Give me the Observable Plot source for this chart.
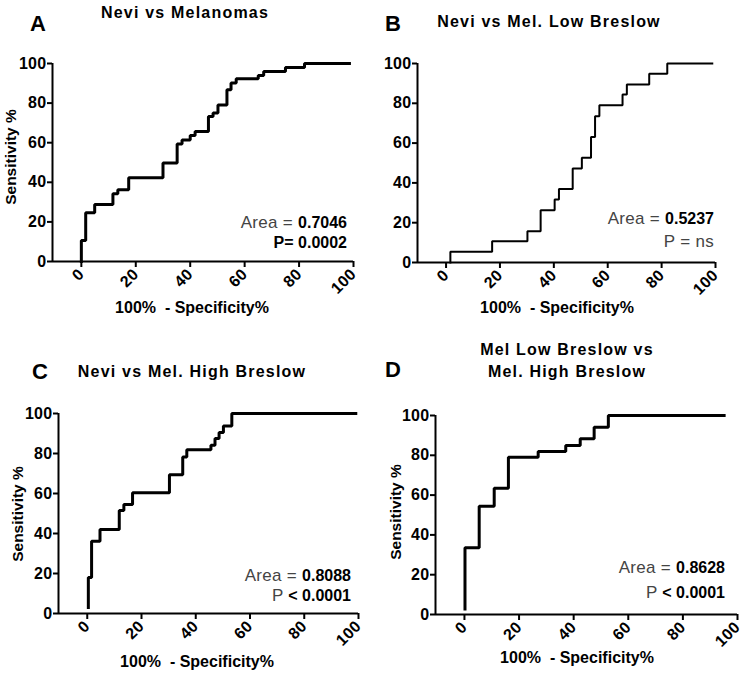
<!DOCTYPE html>
<html><head><meta charset="utf-8">
<script src="https://cdn.jsdelivr.net/npm/d3@7"></script>
<script src="https://cdn.jsdelivr.net/npm/@observablehq/plot@0.6"></script>
<style>
body{margin:0;background:#fff;}
#fig{position:relative;width:744px;height:677px;overflow:hidden;font-family:"Liberation Sans",Arial,sans-serif;color:#000;}
.abs{position:absolute;white-space:nowrap;}
.panel{position:absolute;}
.title{font-weight:bold;font-size:16px;line-height:18px;letter-spacing:1.2px;transform:translateX(-50%);text-align:center;}
.letter{font-weight:bold;font-size:22px;line-height:24px;}
.xlab{font-weight:bold;font-size:16px;line-height:18px;transform:translateX(-50%);}
.ylab{font-weight:bold;font-size:15.5px;line-height:18px;transform:translate(-50%,-50%) rotate(-90deg);}
.stat{font-size:17px;line-height:20px;text-align:right;color:#444;letter-spacing:0.3px;}
.stat b{color:#000;font-size:16px;letter-spacing:0;}
svg text{letter-spacing:0.3px;}
</style>
</head><body>
<div id="fig"></div>
<script>
// ---- data ----
const xTicks = [0, 20, 40, 60, 80, 100];
const yTicks = [0, 20, 40, 60, 80, 100];

const titles = ["Nevi vs Melanomas", "Nevi vs Mel. Low Breslow", "Nevi vs Mel. High Breslow", "Mel Low Breslow vs\nMel. High Breslow"];
const letters = ["A", "B", "C", "D"];
const areas = ["0.7046", "0.5237", "0.8088", "0.8628"];
const pLabels = ["P=", "P =", "P", "P"];
const pValues = ["0.0002", "ns", "< 0.0001", "< 0.0001"];
const xLabel = "100%  - Specificity%";
const yLabel = "Sensitivity %";

const aX = [0, 0, 1.6, 4.9, 11.6, 13.4, 17.4, 30, 35.2, 37, 40, 41.8, 46.7, 48.4, 50.2, 53.5, 55, 56.9, 65, 67, 75, 82, 98.5];
const aY = [0, 10.6, 24.6, 28.8, 34.2, 36.2, 42.3, 49.8, 59.4, 61.4, 63.6, 65.7, 73.2, 75, 79, 86.7, 90.2, 92.3, 94, 96, 98, 100, 100];

const bX = [1.6, 1.6, 17.1, 30.2, 35.1, 40.3, 41.9, 47, 50.4, 53.8, 55.3, 56.9, 65.5, 67.1, 75.4, 82.1, 98.8];
const bY = [0, 5.4, 10.7, 15.7, 26.3, 31.7, 36.9, 47.2, 52.6, 63.1, 73.5, 79, 84.4, 89.4, 94.9, 100, 100];

const cX = [0.4, 0.4, 1.6, 4.7, 11.8, 13.5, 16.7, 30.3, 35.2, 36.7, 45.6, 47.1, 48.6, 50.2, 53.3, 99];
const cY = [3, 18, 36.1, 42, 51.5, 54.5, 60.4, 69.4, 78.3, 81.9, 84.1, 87.5, 90.5, 93.8, 100, 100];

const dX = [0.2, 0.2, 5.4, 10.9, 16.1, 27, 37.1, 42.4, 47.5, 52.7, 95.1];
const dY = [2.8, 33.5, 54.4, 63.5, 79, 81.9, 84.9, 88.3, 94.1, 100, 100];

const series = [[aX, aY], [bX, bY], [cX, cY], [dX, dY]];

// ---- layout ----
const layout = [
  {left: 0,   top: 0,   w: 372, h: 330, mL: 52, mR: 19, mT: 63, mB: 69, sw: 3, yl: [11, 157], xl: [192, 313], title: [185, 18], letter: [30, 32], stat: [347, 228, 248]},
  {left: 372, top: 0,   w: 372, h: 330, mL: 45, mR: 29, mT: 63, mB: 68, sw: 2, yl: null,      xl: [557, 313], title: [549, 27], letter: [385, 32], stat: [714, 224, 247]},
  {left: 0,   top: 330, w: 372, h: 347, mL: 58, mR: 14, mT: 83, mB: 64, sw: 3, yl: [18, 514], xl: [197, 667], title: [192, 377], letter: [32, 380], stat: [351, 581, 601]},
  {left: 372, top: 330, w: 372, h: 347, mL: 63, mR: 7,  mT: 85, mB: 63, sw: 3, yl: [396, 512], xl: [577, 663], title: [567, 355], letter: [385, 378], stat: [725, 573, 598]}
];
const xMin = -10.6;

const fig = document.getElementById("fig");
function addDiv(cls, html, style) {
  const d = document.createElement("div");
  d.className = "abs " + cls;
  d.innerHTML = html;
  Object.assign(d.style, style);
  fig.appendChild(d);
  return d;
}

layout.forEach((L, i) => {
  const [xs, ys] = series[i];
  const data = xs.map((x, j) => ({x, y: ys[j]}));
  const chart = Plot.plot({
    width: L.w, height: L.h,
    marginLeft: L.mL, marginRight: L.mR, marginTop: L.mT, marginBottom: L.mB,
    x: {domain: [xMin, 100]},
    y: {domain: [0, 100]},
    style: {fontFamily: "'Liberation Sans', Arial, sans-serif", fontSize: "16px", fontWeight: "bold", color: "#000", background: "transparent", overflow: "visible"},
    marks: [
      Plot.axisY({ticks: yTicks, tickSize: 5, tickPadding: 1, label: null, strokeWidth: 2, fontSize: 16}),
      Plot.axisX({ticks: xTicks, tickSize: 6, tickPadding: 4, tickRotate: -45, label: null, strokeWidth: 2, fontSize: 16}),
      Plot.ruleX([xMin], {y1: 0, y2: 100, strokeWidth: 2, stroke: "#000"}),
      Plot.ruleY([0], {strokeWidth: 2, stroke: "#000"}),
      Plot.line(data, {x: "x", y: "y", curve: "step-after", stroke: "#000", strokeWidth: L.sw, strokeLinejoin: "miter", strokeLinecap: "square"})
    ]
  });
  const wrap = document.createElement("div");
  wrap.className = "panel";
  wrap.style.left = L.left + "px";
  wrap.style.top = L.top + "px";
  wrap.appendChild(chart);
  fig.appendChild(wrap);

  const tLines = titles[i].split("\n");
  tLines.forEach((t, k) => {
    const base = L.title[1] + k * 22;
    addDiv("title", t, {left: L.title[0] + "px", top: (base - 14) + "px"});
  });
  addDiv("letter", letters[i], {left: L.letter[0] + "px", top: (L.letter[1] - 20) + "px"});
  addDiv("xlab", xLabel.replace(/  /g, "&nbsp; "), {left: L.xl[0] + "px", top: (L.xl[1] - 14) + "px"});
  if (L.yl) addDiv("ylab", yLabel, {left: L.yl[0] + "px", top: L.yl[1] + "px"});
  addDiv("stat", "Area = <b>" + areas[i] + "</b>", {right: (744 - L.stat[0]) + "px", top: (L.stat[1] - 15.5) + "px"});
  const pv = (i === 0) ? "<b>" + pLabels[i] + " " + pValues[i] + "</b>" :
             (i === 1) ? pLabels[i] + " " + pValues[i] :
             pLabels[i] + " <b>" + pValues[i] + "</b>";
  addDiv("stat", pv, {right: (744 - L.stat[0]) + "px", top: (L.stat[2] - 15.5) + "px"});
});
</script>
</body></html>
